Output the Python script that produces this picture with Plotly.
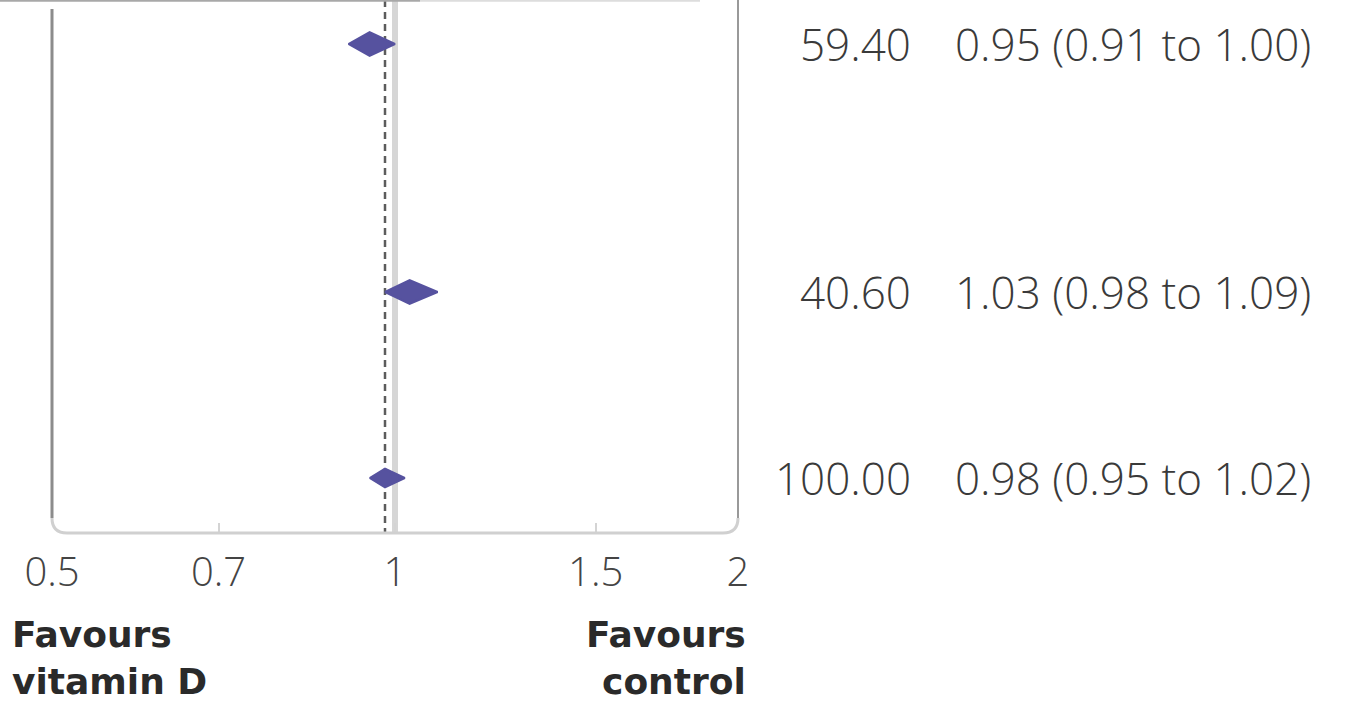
import math
import plotly.graph_objects as go

# Pooled risk ratios by subgroup and overall
labels = ["Subgroup 1", "Subgroup 2", "Overall"]
rows = [0, 4, 7]                      # row slot of each estimate
weights = [59.40, 40.60, 100.00]      # % weight
est = [0.95, 1.03, 0.98]
lo = [0.91, 0.98, 0.95]
hi = [1.00, 1.09, 1.02]
half_h = [0.19, 0.19, 0.15]           # diamond half-height in row units

tick_vals = [0.5, 0.7, 1, 1.5, 2]
tick_text = ["0.5", "0.7", "1", "1.5", "2"]
left_note = ["Favours", "vitamin D"]
right_note = ["Favours", "control"]

W, H = 1346, 714
X0, X1 = 52, 738          # plot area, pixels
Y_BOTTOM = 533


def px(x):
    return x / W


def py(y):
    return 1 - y / H


row_top = -44 / 62
row_bottom = (Y_BOTTOM - 44) / 62

diamond_color = "#56529f"

fig = go.Figure()

# reference line at no effect
fig.add_trace(go.Scatter(
    x=[1, 1], y=[row_top, row_bottom + 0.05], mode="lines",
    line=dict(color="#d6d6d6", width=6), hoverinfo="skip", showlegend=False))

# overall estimate line
overall = est[-1]
fig.add_trace(go.Scatter(
    x=[overall, overall], y=[row_top, row_bottom + 0.05], mode="lines",
    line=dict(color="#5c5c5c", width=2.5, dash="7px,5px"),
    hoverinfo="skip", showlegend=False))

for name, r, e, l, h, hh in zip(labels, rows, est, lo, hi, half_h):
    fig.add_trace(go.Scatter(
        x=[l, e, h, e, l], y=[r, r - hh, r, r + hh, r],
        mode="lines", fill="toself", fillcolor=diamond_color,
        line=dict(color=diamond_color, width=2), name=name,
        hoverinfo="skip", showlegend=False))

text_font = dict(family="Open Sans", size=44, color="#3a3a3a", weight=300)
for r, w, e, l, h in zip(rows, weights, est, lo, hi):
    fig.add_annotation(x=px(913), xref="paper", y=r, yref="y",
                       text=f"{w:.2f}", showarrow=False, xanchor="right",
                       yanchor="middle", font=text_font)
    fig.add_annotation(x=px(953), xref="paper", y=r, yref="y",
                       text=f"{e:.2f} ({l:.2f} to {h:.2f})", showarrow=False,
                       xanchor="left", yanchor="middle", font=text_font)

note_font = dict(family="DejaVu Sans", size=36, color="#2a2a2a", weight="bold")
fig.add_annotation(x=px(10), xref="paper", y=py(658), yref="paper",
                   text="<br>".join(left_note), showarrow=False,
                   xanchor="left", yanchor="middle", align="left",
                   font=note_font)
fig.add_annotation(x=px(748), xref="paper", y=py(658), yref="paper",
                   text="<br>".join(right_note), showarrow=False,
                   xanchor="right", yanchor="middle", align="right",
                   font=note_font)

# frame: darker sides, lighter base, rounded lower corners
R = 15
side = "#8c8c8c"
base = "#d0d0d0"
fig.add_shape(type="path", xref="paper", yref="paper",
              path=f"M {px(X0)},{py(9)} L {px(X0)},{py(Y_BOTTOM - R)}",
              line=dict(color=side, width=3))
fig.add_shape(type="path", xref="paper", yref="paper",
              path=(f"M {px(X0)},{py(Y_BOTTOM - R)} Q {px(X0)},{py(Y_BOTTOM)} "
                    f"{px(X0 + R)},{py(Y_BOTTOM)} L {px(X1 - R)},{py(Y_BOTTOM)} "
                    f"Q {px(X1)},{py(Y_BOTTOM)} {px(X1)},{py(Y_BOTTOM - R)}"),
              line=dict(color=base, width=3))
fig.add_shape(type="path", xref="paper", yref="paper",
              path=f"M {px(X1)},{py(Y_BOTTOM - R)} L {px(X1)},{py(0)}",
              line=dict(color="#999999", width=2))
# thin rule along the top edge
fig.add_shape(type="line", xref="paper", yref="paper",
              x0=0, x1=px(420), y0=py(0.8), y1=py(0.8),
              line=dict(color="#a8a8a8", width=2))
fig.add_shape(type="line", xref="paper", yref="paper",
              x0=px(420), x1=px(700), y0=py(0.8), y1=py(0.8),
              line=dict(color="#dddddd", width=2))

fig.update_layout(
    width=W, height=H,
    margin=dict(l=0, r=0, t=0, b=0, autoexpand=False),
    paper_bgcolor="white", plot_bgcolor="white",
    xaxis=dict(type="log",
               range=[math.log10(0.5) - 1e-6, math.log10(2) + 1e-6],
               domain=[px(X0), px(X1)], automargin=False,
               tickvals=tick_vals, ticktext=tick_text,
               ticks="inside", ticklen=10, tickwidth=2, tickcolor="#d4d4d4",
               ticklabelstandoff=12,
               tickfont=dict(family="Open Sans", size=40, color="#444444", weight=300),
               showgrid=False, zeroline=False, showline=False),
    yaxis=dict(range=[row_bottom, row_top], domain=[py(Y_BOTTOM), 1],
               automargin=False,
               showticklabels=False, showgrid=False, zeroline=False,
               showline=False, ticks=""),
)

fig.write_html("out.html")
